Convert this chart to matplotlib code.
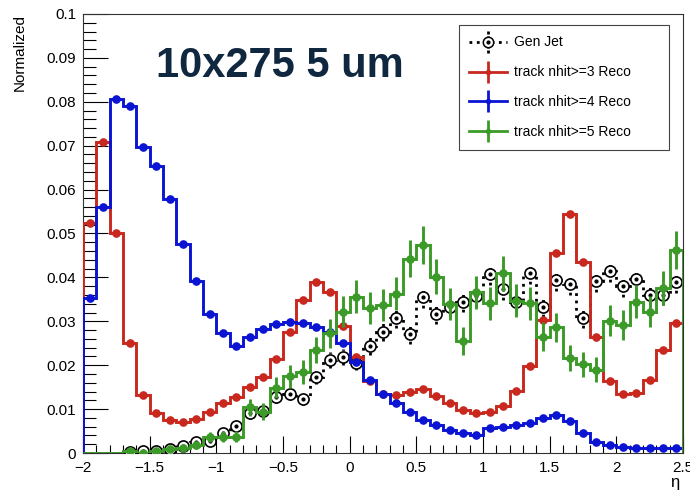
import matplotlib
matplotlib.use("Agg")
import matplotlib.pyplot as plt
from matplotlib.lines import Line2D
from matplotlib.path import Path
import numpy as np

plt.rcParams['font.family'] = ['Liberation Sans', 'DejaVu Sans']

# eta binning: 45 bins of 0.1 from -2 to 2.5
edges = np.round(np.arange(-2.0, 2.5001, 0.1), 2)
centers = 0.5*(edges[:-1]+edges[1:])

gen_jet = [0, 0, 0, 0.0002, 0.0004, 0.0005, 0.0010, 0.0016, 0.0024, 0.0028,
           0.0045, 0.0062, 0.0090, 0.0095, 0.0128, 0.0134, 0.0124, 0.0174, 0.0212, 0.0218,
           0.0206, 0.0244, 0.0275, 0.0307, 0.0270, 0.0355, 0.0316, 0.0333, 0.0345, 0.0357,
           0.0408, 0.0373, 0.0345, 0.0409, 0.0332, 0.0394, 0.0385, 0.0307, 0.0392, 0.0415,
           0.0380, 0.0396, 0.0360, 0.0361, 0.0389]
gen_err = [0, 0, 0, 0.0002, 0.0003, 0.0003, 0.0004, 0.0005, 0.0006, 0.0007,
           0.0008, 0.0010, 0.0012, 0.0012, 0.0014, 0.0014, 0.0014, 0.0016, 0.0018, 0.0018,
           0.0018, 0.0020, 0.0021, 0.0022, 0.0021, 0.0024, 0.0022, 0.0023, 0.0023, 0.0024,
           0.0025, 0.0024, 0.0023, 0.0025, 0.0023, 0.0025, 0.0024, 0.0022, 0.0025, 0.0025,
           0.0024, 0.0025, 0.0024, 0.0024, 0.0025]

nhit3 = [0.0525, 0.0709, 0.0500, 0.0251, 0.0131, 0.0090, 0.0075, 0.0071, 0.0078, 0.0093,
         0.0113, 0.0128, 0.0150, 0.0174, 0.0213, 0.0276, 0.0348, 0.0390, 0.0367, 0.0289,
         0.0219, 0.0165, 0.0134, 0.0132, 0.0140, 0.0146, 0.0130, 0.0113, 0.0099, 0.0090,
         0.0093, 0.0107, 0.0142, 0.0198, 0.0303, 0.0455, 0.0545, 0.0434, 0.0264, 0.0164,
         0.0134, 0.0136, 0.0166, 0.0235, 0.0297]

nhit4 = [0.0354, 0.0561, 0.0806, 0.0790, 0.0698, 0.0654, 0.0579, 0.0476, 0.0392, 0.0317,
         0.0273, 0.0244, 0.0264, 0.0282, 0.0294, 0.0298, 0.0297, 0.0288, 0.0276, 0.0250,
         0.0208, 0.0167, 0.0135, 0.0113, 0.0093, 0.0076, 0.0063, 0.0052, 0.0046, 0.0042,
         0.0056, 0.0060, 0.0064, 0.0069, 0.0080, 0.0086, 0.0074, 0.0045, 0.0024, 0.0018,
         0.0014, 0.0012, 0.0012, 0.0011, 0.0011]

nhit5 = [0, 0, 0, 0.0004, 0.0001, 0.0005, 0.0008, 0.0012, 0.0018, 0.0036,
         0.0037, 0.0037, 0.0104, 0.0094, 0.0149, 0.0175, 0.0185, 0.0235, 0.0273, 0.0322,
         0.0356, 0.0330, 0.0337, 0.0363, 0.0443, 0.0474, 0.0402, 0.0339, 0.0256, 0.0366,
         0.0341, 0.0409, 0.0347, 0.0341, 0.0265, 0.0286, 0.0216, 0.0202, 0.0190, 0.0301,
         0.0292, 0.0345, 0.0322, 0.0375, 0.0462]
nhit5_err = [0, 0, 0, 0.0004, 0.0002, 0.0004, 0.0006, 0.0007, 0.0008, 0.0012,
             0.0012, 0.0012, 0.0020, 0.0019, 0.0024, 0.0026, 0.0027, 0.0030, 0.0033, 0.0036,
             0.0038, 0.0036, 0.0037, 0.0038, 0.0042, 0.0044, 0.0040, 0.0037, 0.0032, 0.0038,
             0.0037, 0.0040, 0.0037, 0.0037, 0.0033, 0.0034, 0.0029, 0.0028, 0.0028, 0.0035,
             0.0034, 0.0037, 0.0036, 0.0039, 0.0043]

labels = ['Gen Jet', 'track nhit>=3 Reco', 'track nhit>=4 Reco', 'track nhit>=5 Reco']
red = '#c8281e'
blue = '#0a14d2'
green = '#3c9a28'

fig = plt.figure(figsize=(6.9, 4.9), dpi=100, facecolor='white')
ax = fig.add_axes([83/690, 1-453/490, 600/690, 439/490])

# Gen jet: dotted histogram, dotted error bars, open circles with centre dot
ax.stairs(gen_jet, edges, baseline=None, color='black', lw=2, ls=':', zorder=2)
eb = ax.errorbar(centers, gen_jet, yerr=gen_err, fmt='none', ecolor='black', elinewidth=2, zorder=2)
eb[2][0].set_linestyle(':')
gmask = np.array(gen_jet) > 0
ax.plot(centers[gmask], np.array(gen_jet)[gmask], 'o', ms=8, mfc='white', mec='black', mew=1.2, zorder=3)
ax.plot(centers[gmask], np.array(gen_jet)[gmask], 'o', ms=2, color='black', zorder=3)

# nhit>=3
ax.stairs(nhit3, edges, baseline=0, color=red, lw=2.1, zorder=4)
ax.plot(centers, nhit3, 'o', ms=5.2, color=red, zorder=4)

# nhit>=4
ax.stairs(nhit4, edges, baseline=0, color=blue, lw=2.1, zorder=5)
ax.plot(centers, nhit4, 'o', ms=5.2, color=blue, zorder=5)

# nhit>=5
gr = np.array(nhit5) > 0
ax.stairs(nhit5, edges, baseline=0, color=green, lw=2.1, zorder=6)
ax.errorbar(centers[gr], np.array(nhit5)[gr], yerr=np.array(nhit5_err)[gr], fmt='o', ms=5.2,
            color=green, elinewidth=2.1, capsize=0, zorder=6)

ax.set_xlim(-2, 2.5)
ax.set_ylim(0, 0.1)
ax.set_xticks(np.arange(-2, 2.51, 0.5))
ax.set_xticklabels(['\u22122', '\u22121.5', '\u22121', '\u22120.5', '0', '0.5', '1', '1.5', '2', '2.5'])
ax.set_xticks(np.arange(-2, 2.51, 0.1), minor=True)
ax.set_yticks(np.arange(0, 0.1001, 0.01))
ax.set_yticklabels(['0', '0.01', '0.02', '0.03', '0.04', '0.05', '0.06', '0.07', '0.08', '0.09', '0.1'])
ax.set_yticks(np.arange(0, 0.1001, 0.002), minor=True)
ax.tick_params(which='both', direction='in', top=False, right=False, labelsize=11, color='black')
ax.tick_params(axis='x', which='major', length=12, width=0.8, pad=6)
ax.tick_params(axis='x', which='minor', length=6, width=0.8)
ax.tick_params(axis='y', which='major', length=18, width=0.8, pad=5)
ax.tick_params(axis='y', which='minor', length=9, width=0.8)
for s in ax.spines.values():
    s.set_linewidth(0.8)
    s.set_color('#333333')

fig.text(20/690, 1-14/490, 'Normalized', rotation=90, ha='center', va='top', fontsize=11)
fig.text(675/690, 1-482/490, '\u03b7', ha='center', va='center', fontsize=12)

fig.text(156/690, 1-77/490, '10x275 5 um', fontsize=30, fontweight='bold',
         color='#10283f', ha='left', va='baseline')

# legend
vdots = Path([(0, -1), (0, -0.75), (0, -0.55), (0, -0.3), (0, 0.3), (0, 0.55), (0, 0.75), (0, 1)],
             [Path.MOVETO, Path.LINETO, Path.MOVETO, Path.LINETO,
              Path.MOVETO, Path.LINETO, Path.MOVETO, Path.LINETO])
h_gen = (Line2D([], [], color='black', lw=2, ls=':'),
         Line2D([], [], marker=vdots, ms=16, mew=2, color='black', ls='none'),
         Line2D([], [], marker='o', ms=7.5, mfc='white', mec='black', mew=1.1, ls='none'),
         Line2D([], [], marker='o', ms=2, color='black', ls='none'))
def lep(c):
    return (Line2D([], [], color=c, lw=2),
            Line2D([], [], marker='|', ms=16, mew=2, color=c, ls='none'),
            Line2D([], [], marker='o', ms=3, color=c, ls='none'))
leg = ax.legend([h_gen, lep(red), lep(blue), lep(green)], labels,
                loc='upper left', mode='expand', fontsize=10,
                bbox_to_anchor=(459/690, 1-150/490, 210/690, 125/490),
                bbox_transform=fig.transFigure, borderaxespad=0, borderpad=0.75,
                labelspacing=1.15, handlelength=2.7, handletextpad=0.5,
                fancybox=False, framealpha=1, edgecolor='#444444')
leg.get_frame().set_linewidth(0.8)

fig.savefig('out.png', dpi=100, facecolor='white')
